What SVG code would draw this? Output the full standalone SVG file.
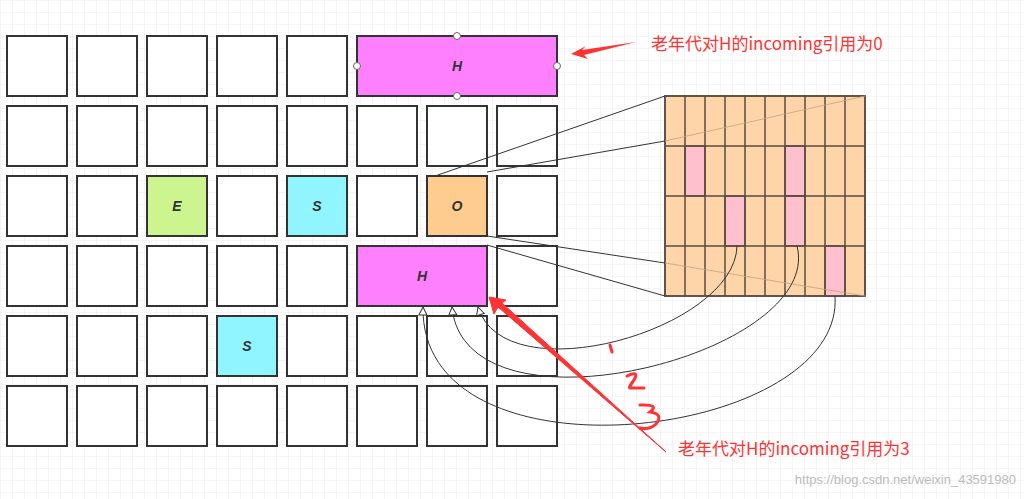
<svg xmlns="http://www.w3.org/2000/svg" width="1024" height="499" viewBox="0 0 1024 499">
<defs>
<pattern id="g" width="12" height="12" patternUnits="userSpaceOnUse"><path d="M12 0H0V12" fill="none" stroke="#ececec" stroke-width="1"/></pattern>
<marker id="ah" markerWidth="10" markerHeight="12" refX="9" refY="5" orient="auto" markerUnits="userSpaceOnUse"><path d="M1,1 L9,5 L1,9 Z" fill="#fff" stroke="#333" stroke-width="1"/></marker>
</defs>
<style>
.c{fill:#fff;stroke:#333;stroke-width:2}
.t{font-family:"Liberation Sans",Arial,sans-serif;font-size:14px;font-weight:bold;font-style:italic;fill:#333;text-anchor:middle}
.r{font-family:"Noto Sans CJK SC","Liberation Sans",sans-serif;font-size:17px;fill:#f33}
.k{fill:#fdd5a8;stroke:#5a4a40;stroke-width:1.5}
.p{fill:#fdc0cc;stroke:#5a4a40;stroke-width:1.5}
.l{fill:none;stroke:#333;stroke-width:1}
.h{fill:#fff;stroke:#666;stroke-width:1}
</style>
<rect width="1024" height="499" fill="#fff"/>
<rect width="1024" height="499" fill="url(#g)"/>
<g id="grid">
<rect class="c" x="7" y="36" width="60" height="60"/><rect class="c" x="77" y="36" width="60" height="60"/><rect class="c" x="147" y="36" width="60" height="60"/><rect class="c" x="217" y="36" width="60" height="60"/><rect class="c" x="287" y="36" width="60" height="60"/>
<rect class="c" x="7" y="106" width="60" height="60"/><rect class="c" x="77" y="106" width="60" height="60"/><rect class="c" x="147" y="106" width="60" height="60"/><rect class="c" x="217" y="106" width="60" height="60"/><rect class="c" x="287" y="106" width="60" height="60"/><rect class="c" x="357" y="106" width="60" height="60"/><rect class="c" x="427" y="106" width="60" height="60"/><rect class="c" x="497" y="106" width="60" height="60"/>
<rect class="c" x="7" y="176" width="60" height="60"/><rect class="c" x="77" y="176" width="60" height="60"/><rect class="c" x="217" y="176" width="60" height="60"/><rect class="c" x="357" y="176" width="60" height="60"/><rect class="c" x="497" y="176" width="60" height="60"/>
<rect class="c" x="7" y="246" width="60" height="60"/><rect class="c" x="77" y="246" width="60" height="60"/><rect class="c" x="147" y="246" width="60" height="60"/><rect class="c" x="217" y="246" width="60" height="60"/><rect class="c" x="287" y="246" width="60" height="60"/><rect class="c" x="497" y="246" width="60" height="60"/>
<rect class="c" x="7" y="316" width="60" height="60"/><rect class="c" x="77" y="316" width="60" height="60"/><rect class="c" x="147" y="316" width="60" height="60"/><rect class="c" x="287" y="316" width="60" height="60"/><rect class="c" x="357" y="316" width="60" height="60"/><rect class="c" x="427" y="316" width="60" height="60"/><rect class="c" x="497" y="316" width="60" height="60"/>
<rect class="c" x="7" y="386" width="60" height="60"/><rect class="c" x="77" y="386" width="60" height="60"/><rect class="c" x="147" y="386" width="60" height="60"/><rect class="c" x="217" y="386" width="60" height="60"/><rect class="c" x="287" y="386" width="60" height="60"/><rect class="c" x="357" y="386" width="60" height="60"/><rect class="c" x="427" y="386" width="60" height="60"/><rect class="c" x="497" y="386" width="60" height="60"/>
</g>
<g id="H1"><rect class="c" x="357" y="36" width="200" height="60" style="fill:#ff80ff"/><text class="t" x="457" y="71">H</text>
<circle class="h" cx="457" cy="36" r="3.5"/><circle class="h" cx="357" cy="66" r="3.5"/><circle class="h" cx="557" cy="66" r="3.5"/><circle class="h" cx="457" cy="96" r="3.5"/></g>
<g id="E"><rect class="c" x="147" y="176" width="60" height="60" style="fill:#ccf590"/><text class="t" x="177" y="211">E</text></g>
<g id="S1"><rect class="c" x="287" y="176" width="60" height="60" style="fill:#90f5ff"/><text class="t" x="317" y="211">S</text></g>
<g id="O"><rect class="c" x="427" y="176" width="60" height="60" style="fill:#ffcc90"/><text class="t" x="457" y="211">O</text></g>
<g id="H2"><rect class="c" x="357" y="246" width="130" height="60" style="fill:#ff80ff"/><text class="t" x="422" y="281">H</text></g>
<g id="S2"><rect class="c" x="217" y="316" width="60" height="60" style="fill:#90f5ff"/><text class="t" x="247" y="351">S</text></g>
<g id="card">
<rect class="k" x="665" y="96" width="200" height="200"/>
<rect class="p" x="685" y="146" width="20" height="50"/><rect class="p" x="785" y="146" width="20" height="50"/><rect class="p" x="725" y="196" width="20" height="50"/><rect class="p" x="785" y="196" width="20" height="50"/><rect class="p" x="825" y="246" width="20" height="50"/>
<path d="M685 96V296M705 96V296M725 96V296M745 96V296M765 96V296M785 96V296M805 96V296M825 96V296M845 96V296M665 146H865M665 196H865M665 246H865" stroke="#5a4a40" stroke-width="1.5" fill="none"/>
<rect x="665" y="96" width="200" height="200" fill="none" stroke="#5a4a40" stroke-width="1.5"/>
</g>
<g id="connectors">
<path class="l" d="M435 176L665 96M487 172L665 141M487 236L665 263M487 245L665 296"/>
<path d="M665 141L865 96M665 263L865 296" stroke="#c8a080" stroke-width="0.8" fill="none"/>
<path class="l" d="M737 246C735 330 505 395 478 307" marker-end="url(#ah)"/>
<path class="l" d="M797 246C825 355 465 445 452 307" marker-end="url(#ah)"/>
<path class="l" d="M835 296C845 440 420 490 423 307" marker-end="url(#ah)"/>
<path d="M636 42L582 50L586 46L571 54L588 59L584 55Z" fill="#f33"/>
<path d="M666 452L502 303L506 300L489 297L494 314L498 307Z" fill="#f33" stroke="#f33" stroke-width="1"/>
<path d="M610 345L612 352M627 376Q640 370 634 380Q628 388 630 388L644 388M640 405Q660 404 650 412Q664 414 656 424Q650 430 640 428" stroke="#f33" stroke-width="3" fill="none" stroke-linecap="round"/>
</g>
<text class="r" x="651" y="50">老年代对H的incoming引用为0</text>
<text class="r" x="678" y="455">老年代对H的incoming引用为3</text>
<text x="1016" y="484" font-family="Liberation Sans,Arial,sans-serif" font-size="13" fill="#bbb" text-anchor="end">https://blog.csdn.net/weixin_43591980</text>
</svg>
